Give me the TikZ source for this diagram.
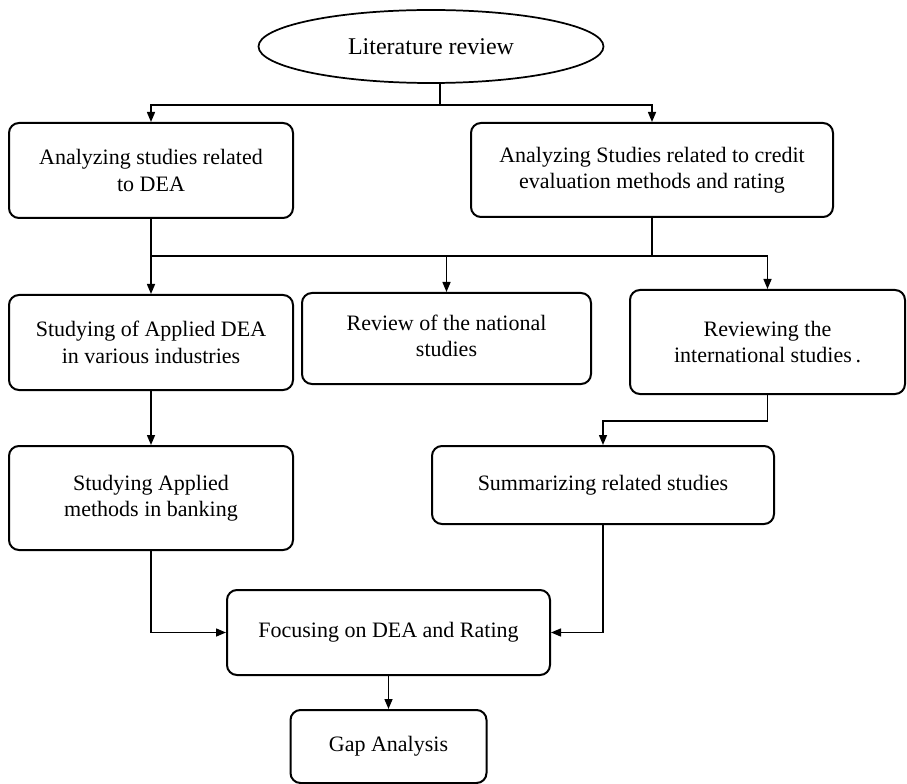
\documentclass[tikz,border=0pt]{standalone}
\usepackage{fontspec}
\setmainfont{Liberation Serif}
\usetikzlibrary{arrows.meta,shapes.geometric,calc}
\newcommand{\liftlines}[2]{\raisebox{#1}{\begin{tabular}{@{}c@{}}#2\end{tabular}}}
\begin{document}
\begin{tikzpicture}[x=0.75pt,y=-0.75pt,
  stepbox/.style 2 args={draw, line width=1.5pt, rounded corners=7.5pt, align=center,
     minimum width=#1*0.75pt, minimum height=#2*0.75pt, inner sep=2pt,
     font=\fontsize{16.5}{19.8}\selectfont},
  oval/.style={draw, ellipse, line width=1.3pt, minimum width=345*0.75pt, minimum height=73*0.75pt,
     inner sep=0pt, font=\fontsize{18}{21}\selectfont},
  conn/.style={line width=1.1pt},
  arr/.style={conn, -{Triangle[length=7.5pt,width=6pt]}}]
\useasboundingbox (0,0) rectangle (907,784);

\node[oval] (e) at (431,46.5) {Literature review};
\node[stepbox={284}{95}] (b1) at (151,170.5) {Analyzing studies related\\to DEA};
\node[stepbox={362}{94}] (b2) at (652,170) {Analyzing Studies related to credit\\evaluation methods and rating};
\node[stepbox={284}{95}] (b3) at (151,342.5) {Studying of Applied DEA\\in various industries};
\node[stepbox={289}{91}] (b4) at (446.5,338.5) {\liftlines{5pt}{Review of the national\\studies}};
\node[stepbox={275}{104}] (b5) at (767.5,342) {Reviewing the\\international studies\,.};
\node[stepbox={284}{104}] (b6) at (151,498) {\liftlines{4pt}{Studying Applied\\methods in banking}};
\node[stepbox={342}{78}] (b7) at (603,485) {Summarizing related studies};
\node[stepbox={323}{85}] (b8) at (388.5,632.5) {Focusing on DEA and Rating};
\node[stepbox={196}{73}] (b9) at (388.5,746.5) {Gap Analysis};

\coordinate (j1) at (440,105);
\coordinate (h2) at (0,256);

\draw[conn] (e.south -| j1) -- (j1);
\draw[arr] (j1) -| (b1.north);
\draw[arr] (j1) -| (b2.north);

\draw[arr] (b1.south) -- (b3.north);
\draw[conn] (b2.south) -- (b2.south |- h2);
\draw[arr] (b1.south |- h2) -| (b5.north);
\draw[arr] (b4.north |- h2) -- (b4.north);

\draw[arr] (b3.south) -- (b6.north);
\draw[arr] (b5.south) -- ++(0,26) -| (b7.north);

\draw[arr] (b6.south) |- (b8.west);
\draw[arr] (b7.south) |- (b8.east);
\draw[arr] (b8.south) -- (b9.north);
\end{tikzpicture}
\end{document}
